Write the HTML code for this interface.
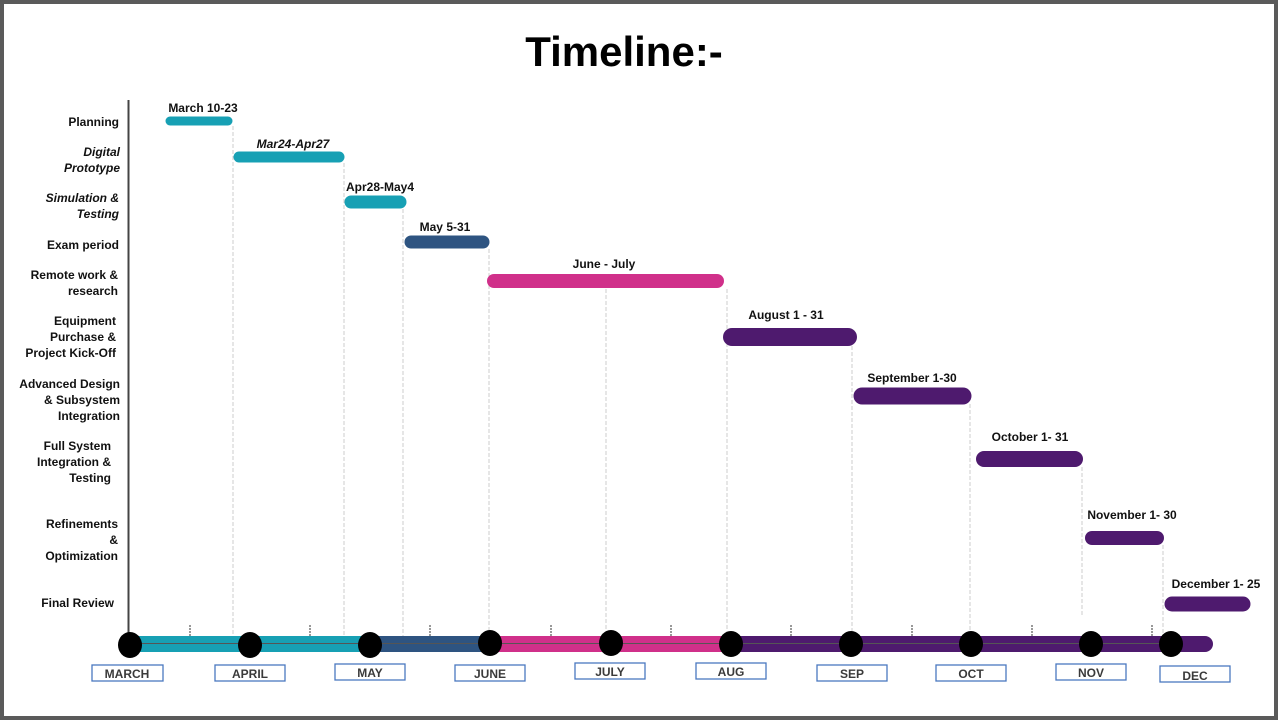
<!DOCTYPE html>
<html><head><meta charset="utf-8"><style>
html,body{margin:0;padding:0;background:#fff}
svg{display:block}
text{font-family:"Liberation Sans",sans-serif;font-weight:bold}
</style></head><body>
<svg width="1280" height="720" viewBox="0 0 1280 720" xmlns="http://www.w3.org/2000/svg">
<rect x="0" y="0" width="1280" height="720" fill="#fff"/>
<rect x="2" y="2" width="1274" height="716" fill="none" stroke="#5a5a5a" stroke-width="4"/>
<text x="624" y="66" font-size="42" text-anchor="middle" fill="#000">Timeline:-</text>
<!-- axis -->
<line x1="128.5" y1="100" x2="128.5" y2="645" stroke="#444" stroke-width="2"/>
<!-- dashed verticals -->
<g stroke="#ccc" stroke-width="1" stroke-dasharray="4,2">
<line x1="233" y1="126" x2="233" y2="640"/>
<line x1="344" y1="163" x2="344" y2="640"/>
<line x1="403" y1="209" x2="403" y2="640"/>
<line x1="489" y1="249" x2="489" y2="640"/>
<line x1="606" y1="289" x2="606" y2="640"/>
<line x1="727" y1="289" x2="727" y2="640"/>
<line x1="852" y1="346" x2="852" y2="640"/>
<line x1="970" y1="404" x2="970" y2="640"/>
<line x1="1082" y1="467" x2="1082" y2="615"/>
<line x1="1163" y1="545" x2="1163" y2="640"/>
</g>
<!-- ticks -->
<g stroke="#333" stroke-width="1" stroke-dasharray="2,1">
<line x1="190" y1="625" x2="190" y2="640"/><line x1="310" y1="625" x2="310" y2="640"/>
<line x1="430" y1="625" x2="430" y2="640"/><line x1="551" y1="625" x2="551" y2="640"/>
<line x1="671" y1="625" x2="671" y2="640"/><line x1="791" y1="625" x2="791" y2="640"/>
<line x1="912" y1="625" x2="912" y2="640"/><line x1="1032" y1="625" x2="1032" y2="640"/>
<line x1="1152" y1="625" x2="1152" y2="640"/>
</g>
<!-- labels -->
<g font-size="12" text-anchor="end" fill="#111">
<text x="119" y="126">Planning</text>
<text x="120" y="156" font-style="italic">Digital</text>
<text x="120" y="172" font-style="italic">Prototype</text>
<text x="119" y="202" font-style="italic">Simulation &amp;</text>
<text x="119" y="218" font-style="italic">Testing</text>
<text x="119" y="249">Exam period</text>
<text x="118" y="279">Remote work &amp;</text>
<text x="118" y="295">research</text>
<text x="116" y="325">Equipment</text>
<text x="116" y="341">Purchase &amp;</text>
<text x="116" y="357">Project Kick-Off</text>
<text x="120" y="388">Advanced Design</text>
<text x="120" y="404">&amp; Subsystem</text>
<text x="120" y="420">Integration</text>
<text x="111" y="450">Full System</text>
<text x="111" y="466">Integration &amp;</text>
<text x="111" y="482">Testing</text>
<text x="118" y="528">Refinements</text>
<text x="118" y="544">&amp;</text>
<text x="118" y="560">Optimization</text>
<text x="114" y="607">Final Review</text>
</g>
<!-- bars -->
<g stroke-linecap="round">
<line x1="170" y1="121" x2="228" y2="121" stroke="#17a0b4" stroke-width="9"/>
<line x1="239" y1="157" x2="339" y2="157" stroke="#17a0b4" stroke-width="11"/>
<line x1="351" y1="202" x2="400" y2="202" stroke="#17a0b4" stroke-width="13"/>
<line x1="411" y1="242" x2="483" y2="242" stroke="#2e5481" stroke-width="13"/>
<line x1="494" y1="281" x2="717" y2="281" stroke="#d0308a" stroke-width="14"/>
<line x1="732" y1="337" x2="848" y2="337" stroke="#4e1a6e" stroke-width="18"/>
<line x1="862" y1="396" x2="963" y2="396" stroke="#4e1a6e" stroke-width="17"/>
<line x1="984" y1="459" x2="1075" y2="459" stroke="#4e1a6e" stroke-width="16"/>
<line x1="1092" y1="538" x2="1157" y2="538" stroke="#4e1a6e" stroke-width="14"/>
<line x1="1172" y1="604" x2="1243" y2="604" stroke="#4e1a6e" stroke-width="15"/>
</g>
<g font-size="12" text-anchor="middle" fill="#111">
<text x="203" y="112">March 10-23</text>
<text x="293" y="148" font-style="italic">Mar24-Apr27</text>
<text x="380" y="191">Apr28-May4</text>
<text x="445" y="231">May 5-31</text>
<text x="604" y="268">June - July</text>
<text x="786" y="319">August 1 - 31</text>
<text x="912" y="382">September 1-30</text>
<text x="1030" y="441">October 1- 31</text>
<text x="1132" y="519">November 1- 30</text>
<text x="1216" y="588">December 1- 25</text>
</g>
<!-- main timeline -->
<rect x="128" y="636" width="242" height="16" fill="#17a0b4"/>
<rect x="370" y="636" width="120" height="16" fill="#2e5481"/>
<rect x="490" y="636" width="240" height="16" fill="#d0308a"/>
<path d="M730 636 H1205 a8 8 0 0 1 0 16 H730 Z" fill="#4e1a6e"/>
<line x1="128" y1="643.5" x2="1160" y2="643.5" stroke="#555" stroke-width="1"/>
<g fill="#000">
<ellipse cx="130" cy="645" rx="12" ry="13"/><ellipse cx="250" cy="645" rx="12" ry="13"/>
<ellipse cx="370" cy="645" rx="12" ry="13"/><ellipse cx="490" cy="643" rx="12" ry="13"/>
<ellipse cx="611" cy="643" rx="12" ry="13"/><ellipse cx="731" cy="644" rx="12" ry="13"/>
<ellipse cx="851" cy="644" rx="12" ry="13"/><ellipse cx="971" cy="644" rx="12" ry="13"/>
<ellipse cx="1091" cy="644" rx="12" ry="13"/><ellipse cx="1171" cy="644" rx="12" ry="13"/>
</g>
<!-- month boxes -->
<g fill="#fff" stroke="#4a78c0" stroke-width="1.3">
<rect x="92" y="665" width="71" height="16"/><rect x="215" y="665" width="70" height="16"/>
<rect x="335" y="664" width="70" height="16"/><rect x="455" y="665" width="70" height="16"/>
<rect x="575" y="663" width="70" height="16"/><rect x="696" y="663" width="70" height="16"/>
<rect x="817" y="665" width="70" height="16"/><rect x="936" y="665" width="70" height="16"/>
<rect x="1056" y="664" width="70" height="16"/><rect x="1160" y="666" width="70" height="16"/>
</g>
<g font-size="12" text-anchor="middle" fill="#3a3a3a">
<text x="127" y="678">MARCH</text><text x="250" y="678">APRIL</text>
<text x="370" y="677">MAY</text><text x="490" y="678">JUNE</text>
<text x="610" y="676">JULY</text><text x="731" y="676">AUG</text>
<text x="852" y="678">SEP</text><text x="971" y="678">OCT</text>
<text x="1091" y="677">NOV</text><text x="1195" y="680">DEC</text>
</g>
</svg>
</body></html>
